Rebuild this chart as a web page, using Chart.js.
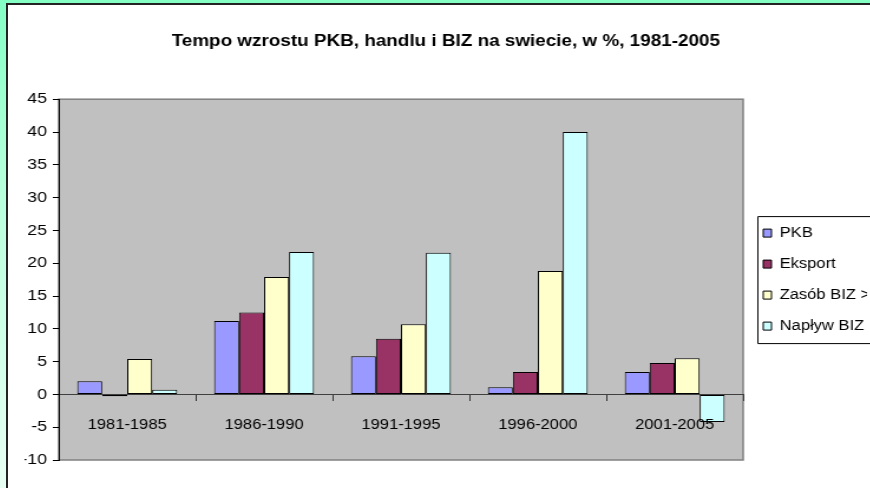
<!DOCTYPE html>
<html>
<head>
<meta charset="utf-8">
<script src="https://cdn.jsdelivr.net/npm/chart.js@4/dist/chart.umd.min.js"></script>
<style>
  html, body { margin: 0; padding: 0; width: 870px; height: 488px; overflow: hidden; }
  body { background: linear-gradient(to bottom, #84ffc4 0%, #b8ffdc 40%, #e8fff4 100%); position: relative; }
  #panel {
    position: absolute; left: 6px; top: 3px; width: 880px; height: 490px;
    background: #fff; border-left: 2px solid #222; border-top: 2px solid #222;
  }
  /* the source picture is stretched horizontally, so the canvas is too */
  #chart { position: absolute; left: 8px; top: 5px; transform: scaleX(1.18); transform-origin: 0 0; }
</style>
</head>
<body>
<div id="panel"></div>
<canvas id="chart" width="745" height="483"></canvas>
<script>
const categories = ["1981-1985", "1986-1990", "1991-1995", "1996-2000", "2001-2005"];
const pkb = [2.0, 11.2, 5.8, 1.1, 3.4];
const eksport = [-0.3, 12.5, 8.5, 3.4, 4.8];
const zasobBiz = [5.4, 17.9, 10.7, 18.8, 5.5];
const naplywBiz = [0.7, 21.7, 21.6, 40.0, -4.2];
const yTicks = { min: -10, max: 45, step: 5 };

Chart.defaults.font.family = "'Liberation Sans', Arial, sans-serif";
Chart.defaults.color = "#000";

// grey plot area with a thin frame
const plotBackground = {
  id: "plotBackground",
  beforeDraw(chart) {
    const { ctx, chartArea: a } = chart;
    ctx.save();
    ctx.fillStyle = "#c0c0c0";
    ctx.fillRect(a.left, a.top, a.right - a.left, a.bottom - a.top);
    ctx.strokeStyle = "#808080";
    ctx.lineWidth = 1.5;
    ctx.strokeRect(a.left, a.top, a.right - a.left, a.bottom - a.top);
    ctx.restore();
  },
};

// black frame round the legend, its right side runs off the picture
const legendFrame = {
  id: "legendFrame",
  afterDraw(chart) {
    const lg = chart.legend;
    const boxes = lg.legendHitBoxes;
    if (!boxes || !boxes.length) return;
    const { ctx } = chart;
    const x = lg.left + 12;
    const top = boxes[0].top - 10;
    const bottom = boxes[boxes.length - 1].top + 24;
    ctx.save();
    ctx.strokeStyle = "#000";
    ctx.lineWidth = 1;
    ctx.beginPath();
    ctx.moveTo(chart.width + 5, top + 0.5);
    ctx.lineTo(x + 0.5, top + 0.5);
    ctx.lineTo(x + 0.5, bottom + 0.5);
    ctx.lineTo(chart.width + 5, bottom + 0.5);
    ctx.stroke();
    ctx.restore();
  },
};

function series(label, data, color) {
  return {
    label: label,
    data: data,
    backgroundColor: color,
    borderColor: "#000",
    borderWidth: 1,
    borderSkipped: false,
    barPercentage: 1,
    categoryPercentage: 0.73,
  };
}

new Chart(document.getElementById("chart"), {
  type: "bar",
  data: {
    labels: categories,
    datasets: [
      series("PKB", pkb, "#9999ff"),
      series("Eksport", eksport, "#993366"),
      series("Zasób BIZ >", zasobBiz, "#ffffcc"),
      series("Napływ BIZ", naplywBiz, "#ccffff"),
    ],
  },
  options: {
    responsive: false,
    animation: false,
    layout: { padding: { left: 14, right: 17, top: 0, bottom: 28 } },
    plugins: {
      title: {
        display: true,
        text: "Tempo wzrostu PKB, handlu i BIZ na swiecie, w %, 1981-2005",
        color: "#000",
        font: { size: 16, weight: "bold" },
        padding: { top: 27, bottom: 48 },
      },
      legend: {
        position: "right",
        fullSize: false,
        maxWidth: 105,
        labels: {
          boxWidth: 7,
          boxHeight: 8,
          padding: 17,
          color: "#000",
          font: { size: 14 },
        },
      },
      tooltip: { enabled: false },
    },
    scales: {
      x: {
        position: { y: 0 },
        grid: { drawOnChartArea: false, drawTicks: true, tickLength: 6, color: "#333" },
        border: { color: "#404040", width: 1 },
        ticks: { padding: 16, color: "#000", font: { size: 14 }, z: 1, maxRotation: 0 },
      },
      y: {
        min: yTicks.min,
        max: yTicks.max,
        afterFit(scale) { scale.width = 29; },
        grid: { drawOnChartArea: false, drawTicks: true, tickLength: 5, color: "#000" },
        border: { color: "#000", width: 1 },
        ticks: { stepSize: yTicks.step, padding: 5, color: "#000", font: { size: 15 } },
      },
    },
  },
  plugins: [plotBackground, legendFrame],
});
</script>
</body>
</html>
